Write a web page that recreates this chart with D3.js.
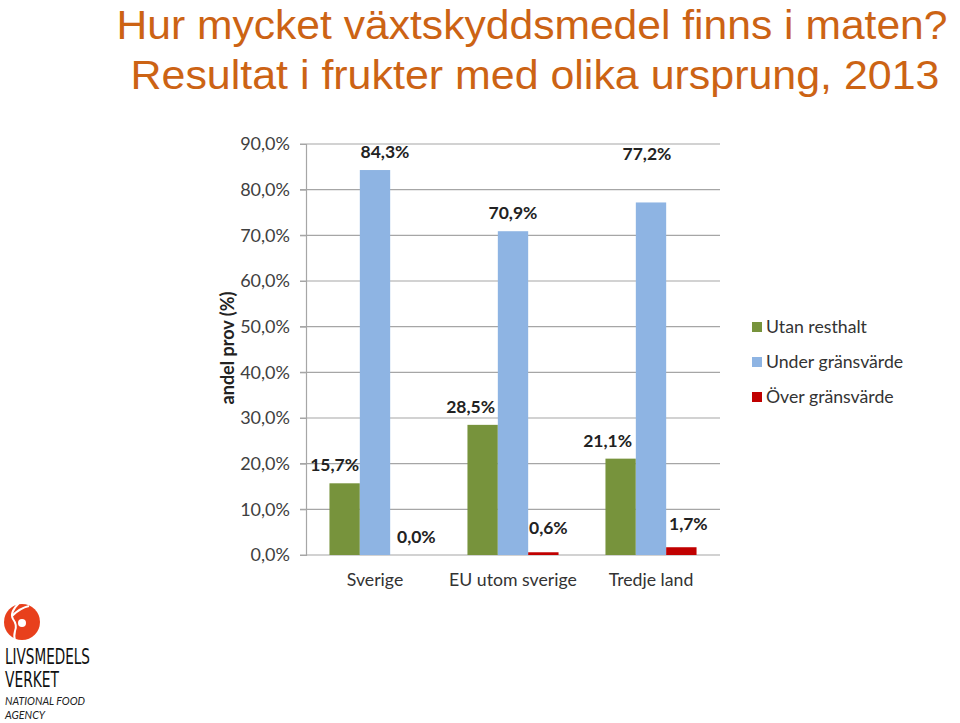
<!DOCTYPE html>
<html><head><meta charset="utf-8">
<script src="https://cdn.jsdelivr.net/npm/d3@7"></script>
<style>body{margin:0;background:#fff}svg{display:block}</style>
</head><body>
<svg id="c" width="960" height="723"></svg>
<script>
const titleLines = ["Hur mycket växtskyddsmedel finns i maten?", "Resultat i frukter med olika ursprung, 2013"];
const categories = ["Sverige", "EU utom sverige", "Tredje land"];
const seriesNames = ["Utan resthalt", "Under gränsvärde", "Över gränsvärde"];
const utanResthalt = [15.7, 28.5, 21.1];
const underGransvarde = [84.3, 70.9, 77.2];
const overGransvarde = [0.0, 0.6, 1.7];
const yTicks = [0, 10, 20, 30, 40, 50, 60, 70, 80, 90];
const yTitle = "andel prov (%)";
const colors = ["#77933C", "#8EB4E3", "#C00000"];
// manual label nudges (px) as in the original slide
const labelNudge = [
  [[-10,0],[10,0],[11,0]],
  [[-12,0],[0,0],[5,-6]],
  [[-13,0],[-4,-30],[7,-5]]
];

const series = [utanResthalt, underGransvarde, overGransvarde];
const svg = d3.select("#c");
const fmt = v => d3.format(".1f")(v).replace(".", ",") + "%";

// Title
svg.selectAll("text.title").data(titleLines).join("text")
  .attr("x", (d,i) => i ? 535 : 532).attr("y", (d,i) => 39 + i*50)
  .attr("text-anchor", "middle")
  .attr("font-family", "Liberation Sans, Arial, sans-serif")
  .attr("font-size", 41.5)
  .attr("textLength", (d,i) => i ? 809 : 831).attr("lengthAdjust", "spacingAndGlyphs")
  .attr("fill", "#CC6314").text(d => d);

const m = {l: 306, r: 720, t: 144, b: 555};
const x0 = d3.scaleBand().domain(categories).range([m.l, m.r]).paddingInner(0.34).paddingOuter(0.17);
const x1 = d3.scaleBand().domain(d3.range(3)).range([0, x0.bandwidth()]);
const y = d3.scaleLinear().domain([0, 90]).range([m.b, m.t]);

const font = "Lato, 'Open Sans', sans-serif";

// gridlines
svg.append("g").selectAll("line").data(yTicks).join("line")
  .attr("x1", m.l - 6).attr("x2", m.r)
  .attr("y1", d => y(d)).attr("y2", d => y(d))
  .attr("stroke", "#A6A6A6").attr("stroke-width", 1.2);

// y axis
const ya = svg.append("g").attr("transform", `translate(${m.l},0)`)
  .call(d3.axisLeft(y).tickValues(yTicks).tickSize(6).tickFormat(fmt));
ya.select(".domain").attr("stroke", "#A6A6A6").attr("stroke-width", 1.2);
ya.selectAll(".tick line").attr("stroke", "#A6A6A6");
ya.selectAll(".tick text").attr("font-family", font).attr("font-size", 18)
  .attr("fill", "#404040").attr("x", -16);

// y title
svg.append("text").attr("transform", "translate(234,348) rotate(-90)")
  .attr("text-anchor", "middle").attr("font-family", font).attr("font-weight", "bold")
  .attr("font-size", 18).attr("fill", "#222").text(yTitle);

// bars
const groups = svg.append("g").selectAll("g").data(categories).join("g")
  .attr("transform", d => `translate(${x0(d)},0)`);
groups.each(function(cat, ci) {
  const g = d3.select(this);
  series.forEach((s, si) => {
    const v = s[ci];
    g.append("rect").attr("x", x1(si)).attr("width", x1.bandwidth())
      .attr("y", y(v)).attr("height", y(0) - y(v)).attr("fill", colors[si]);
    const n = labelNudge[ci][si];
    g.append("text").attr("x", x1(si) + x1.bandwidth()/2 + n[0])
      .attr("y", y(v) - 12 + n[1]).attr("text-anchor", "middle")
      .attr("font-family", font).attr("font-weight", "bold").attr("font-size", 17.5)
      .attr("fill", "#222").text(fmt(v));
  });
});

// x axis labels
svg.append("g").selectAll("text").data(categories).join("text")
  .attr("x", d => x0(d) + x0.bandwidth()/2).attr("y", 586)
  .attr("text-anchor", "middle").attr("font-family", font).attr("font-size", 17.7)
  .attr("fill", "#333").text(d => d);

// legend
const lg = svg.append("g").selectAll("g").data(seriesNames).join("g")
  .attr("transform", (d,i) => `translate(752,${327 + i*35})`);
lg.append("rect").attr("x", 0).attr("y", -5).attr("width", 10).attr("height", 10)
  .attr("fill", (d,i) => colors[i]);
lg.append("text").attr("x", 14).attr("y", 6).attr("font-family", font).attr("font-size", 17.7)
  .attr("fill", "#333").text(d => d);

// logo
const logo = svg.append("g");
logo.append("circle").attr("cx", 22).attr("cy", 622).attr("r", 18).attr("fill", "#E8401C");
logo.append("circle").attr("cx", 22).attr("cy", 623).attr("r", 4).attr("fill", "#fff");
logo.append("path").attr("d", "M19,603 C14,608 10,614 13,619 C16,623 17,626 15,631 C14,635 14,638 15,641").attr("fill", "none").attr("stroke", "#fff").attr("stroke-width", 2);
logo.append("path").attr("d", "M12,616 Q20,608 29,606").attr("fill", "none").attr("stroke", "#fff").attr("stroke-width", 2);
logo.append("text").attr("x", 5).attr("y", 664).attr("font-family", "DejaVu Sans Condensed, DejaVu Sans, sans-serif")
  .attr("font-size", 22).attr("textLength", 85).attr("lengthAdjust", "spacingAndGlyphs").attr("fill", "#111").text("LIVSMEDELS");
logo.append("text").attr("x", 5).attr("y", 687).attr("font-family", "DejaVu Sans Condensed, DejaVu Sans, sans-serif")
  .attr("font-size", 22).attr("textLength", 54).attr("lengthAdjust", "spacingAndGlyphs").attr("fill", "#111").text("VERKET");
logo.append("text").attr("x", 5).attr("y", 705).attr("font-family", font).attr("font-style", "italic")
  .attr("font-size", 11).attr("textLength", 80).attr("lengthAdjust", "spacingAndGlyphs").attr("fill", "#222").text("NATIONAL FOOD");
logo.append("text").attr("x", 5).attr("y", 719).attr("font-family", font).attr("font-style", "italic")
  .attr("font-size", 11).attr("textLength", 40).attr("lengthAdjust", "spacingAndGlyphs").attr("fill", "#222").text("AGENCY");
</script>
</body></html>
